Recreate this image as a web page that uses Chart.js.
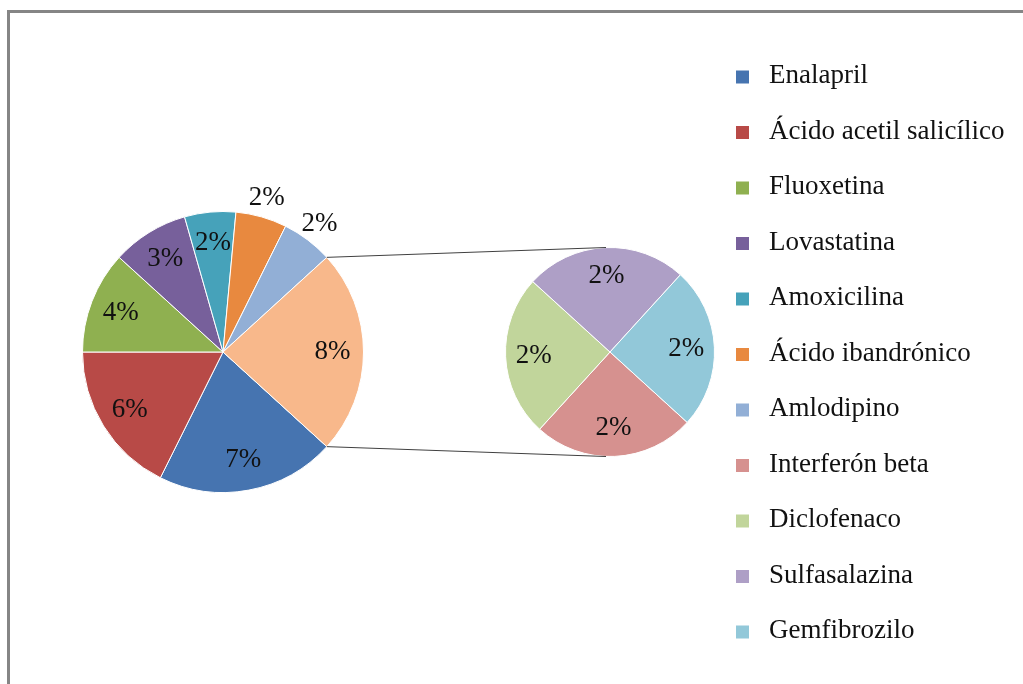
<!DOCTYPE html>
<html>
<head>
<meta charset="utf-8">
<script src="https://cdn.jsdelivr.net/npm/chart.js@4.4.1/dist/chart.umd.min.js"></script>
<style>
  body { margin: 0; background: #fff; }
  #wrap { position: relative; width: 1023px; height: 684px; overflow: hidden; }
  #frame { position: absolute; left: 7px; top: 10px; width: 1100px; height: 800px;
           border-top: 3px solid #858585; border-left: 3px solid #858585; }
  canvas { position: absolute; left: 0; top: 0; }
</style>
</head>
<body>
<div id="wrap">
  <div id="frame"></div>
  <canvas id="mainPie" width="1023" height="684"></canvas>
  <canvas id="subPie" width="1023" height="684"></canvas>
</div>
<script>
// main pie (the last slice is the sum of the second pie)
const mainLabels = ['Enalapril', 'Ácido acetil salicílico', 'Fluoxetina', 'Lovastatina',
                    'Amoxicilina', 'Ácido ibandrónico', 'Amlodipino'];
const mainValues = [7, 6, 4, 3, 2, 2, 2];
const mainColors = ['#4674B0', '#B84A47', '#8FB050', '#77609B', '#46A2BA', '#E8893F', '#92AFD6'];
const otherColor = '#F8B88B';

// second pie
const subLabels = ['Interferón beta', 'Diclofenaco', 'Sulfasalazina', 'Gemfibrozilo'];
const subValues = [2, 2, 2, 2];
const subColors = ['#D6918F', '#C1D59B', '#AE9FC6', '#92C8D9'];

// which main-pie labels sit outside the slice
const outsideLabel = [false, false, false, false, false, true, true, false];

const otherValue = subValues.reduce((a, b) => a + b, 0);
const allMain = mainValues.concat([otherValue]);
const total = allMain.reduce((a, b) => a + b, 0);
// the "other" slice is centred on the right side
const startRotation = 90 + (otherValue / total) * 180;

const FONT = '27px "Liberation Serif", "Times New Roman", serif';

// draws the % text on each slice
function pctLabels(inFactor, outFactor, outside) {
    return {
        id: 'pctLabels',
        afterDatasetsDraw(chart) {
            const ctx = chart.ctx;
            const values = chart.data.datasets[0].data;
            ctx.save();
            ctx.font = FONT;
            ctx.fillStyle = '#111';
            ctx.textAlign = 'center';
            ctx.textBaseline = 'middle';
            chart.getDatasetMeta(0).data.forEach((arc, i) => {
                const p = arc.getProps(['x', 'y', 'startAngle', 'endAngle', 'outerRadius'], true);
                const mid = (p.startAngle + p.endAngle) / 2;
                const r = p.outerRadius * (outside && outside[i] ? outFactor : inFactor);
                ctx.fillText(values[i] + '%', p.x + Math.cos(mid) * r, p.y + Math.sin(mid) * r);
            });
            ctx.restore();
        }
    };
}

// legend with every item of both pies
const sideLegend = {
    id: 'sideLegend',
    afterDraw(chart) {
        const ctx = chart.ctx;
        const names = mainLabels.concat(subLabels);
        const colors = mainColors.concat(subColors);
        ctx.save();
        ctx.font = FONT;
        ctx.fillStyle = '#111';
        ctx.textBaseline = 'middle';
        names.forEach((name, i) => {
            const y = 77 + i * 55.5;
            ctx.fillStyle = colors[i];
            ctx.fillRect(736, y - 6.5, 13, 13);
            ctx.fillStyle = '#111';
            ctx.fillText(name, 769, y - 1);
        });
        ctx.restore();
    }
};

const mainChart = new Chart(document.getElementById('mainPie'), {
    type: 'pie',
    data: {
        labels: mainLabels.concat(['Otros']),
        datasets: [{
            data: allMain,
            backgroundColor: mainColors.concat([otherColor]),
            borderColor: '#fff',
            borderWidth: 1
        }]
    },
    options: {
        responsive: false,
        animation: false,
        rotation: startRotation,
        layout: { padding: { left: 82, right: 659, top: 211, bottom: 191 } },
        plugins: { legend: { display: false }, tooltip: { enabled: false } }
    },
    plugins: [pctLabels(0.78, 1.14, outsideLabel), sideLegend]
});

// lines from the "other" slice to the second pie
const connectors = {
    id: 'connectors',
    afterDraw(chart) {
        const arcs = mainChart.getDatasetMeta(0).data;
        const o = arcs[arcs.length - 1].getProps(['x', 'y', 'startAngle', 'endAngle', 'outerRadius'], true);
        const s = chart.getDatasetMeta(0).data[0].getProps(['x', 'y', 'outerRadius'], true);
        const ctx = chart.ctx;
        ctx.save();
        ctx.strokeStyle = '#404040';
        ctx.lineWidth = 1;
        ctx.beginPath();
        ctx.moveTo(o.x + Math.cos(o.startAngle) * o.outerRadius, o.y + Math.sin(o.startAngle) * o.outerRadius);
        ctx.lineTo(s.x - 4, s.y - s.outerRadius);
        ctx.moveTo(o.x + Math.cos(o.endAngle) * o.outerRadius, o.y + Math.sin(o.endAngle) * o.outerRadius);
        ctx.lineTo(s.x - 4, s.y + s.outerRadius);
        ctx.stroke();
        ctx.restore();
    }
};

const subChart = new Chart(document.getElementById('subPie'), {
    type: 'pie',
    data: {
        labels: subLabels,
        datasets: [{
            data: subValues,
            backgroundColor: subColors,
            borderColor: '#fff',
            borderWidth: 1
        }]
    },
    options: {
        responsive: false,
        animation: false,
        rotation: startRotation,
        layout: { padding: { left: 505, right: 308, top: 247, bottom: 227 } },
        plugins: { legend: { display: false }, tooltip: { enabled: false } }
    },
    plugins: [pctLabels(0.73, 1.1, null), connectors]
});
</script>
</body>
</html>
